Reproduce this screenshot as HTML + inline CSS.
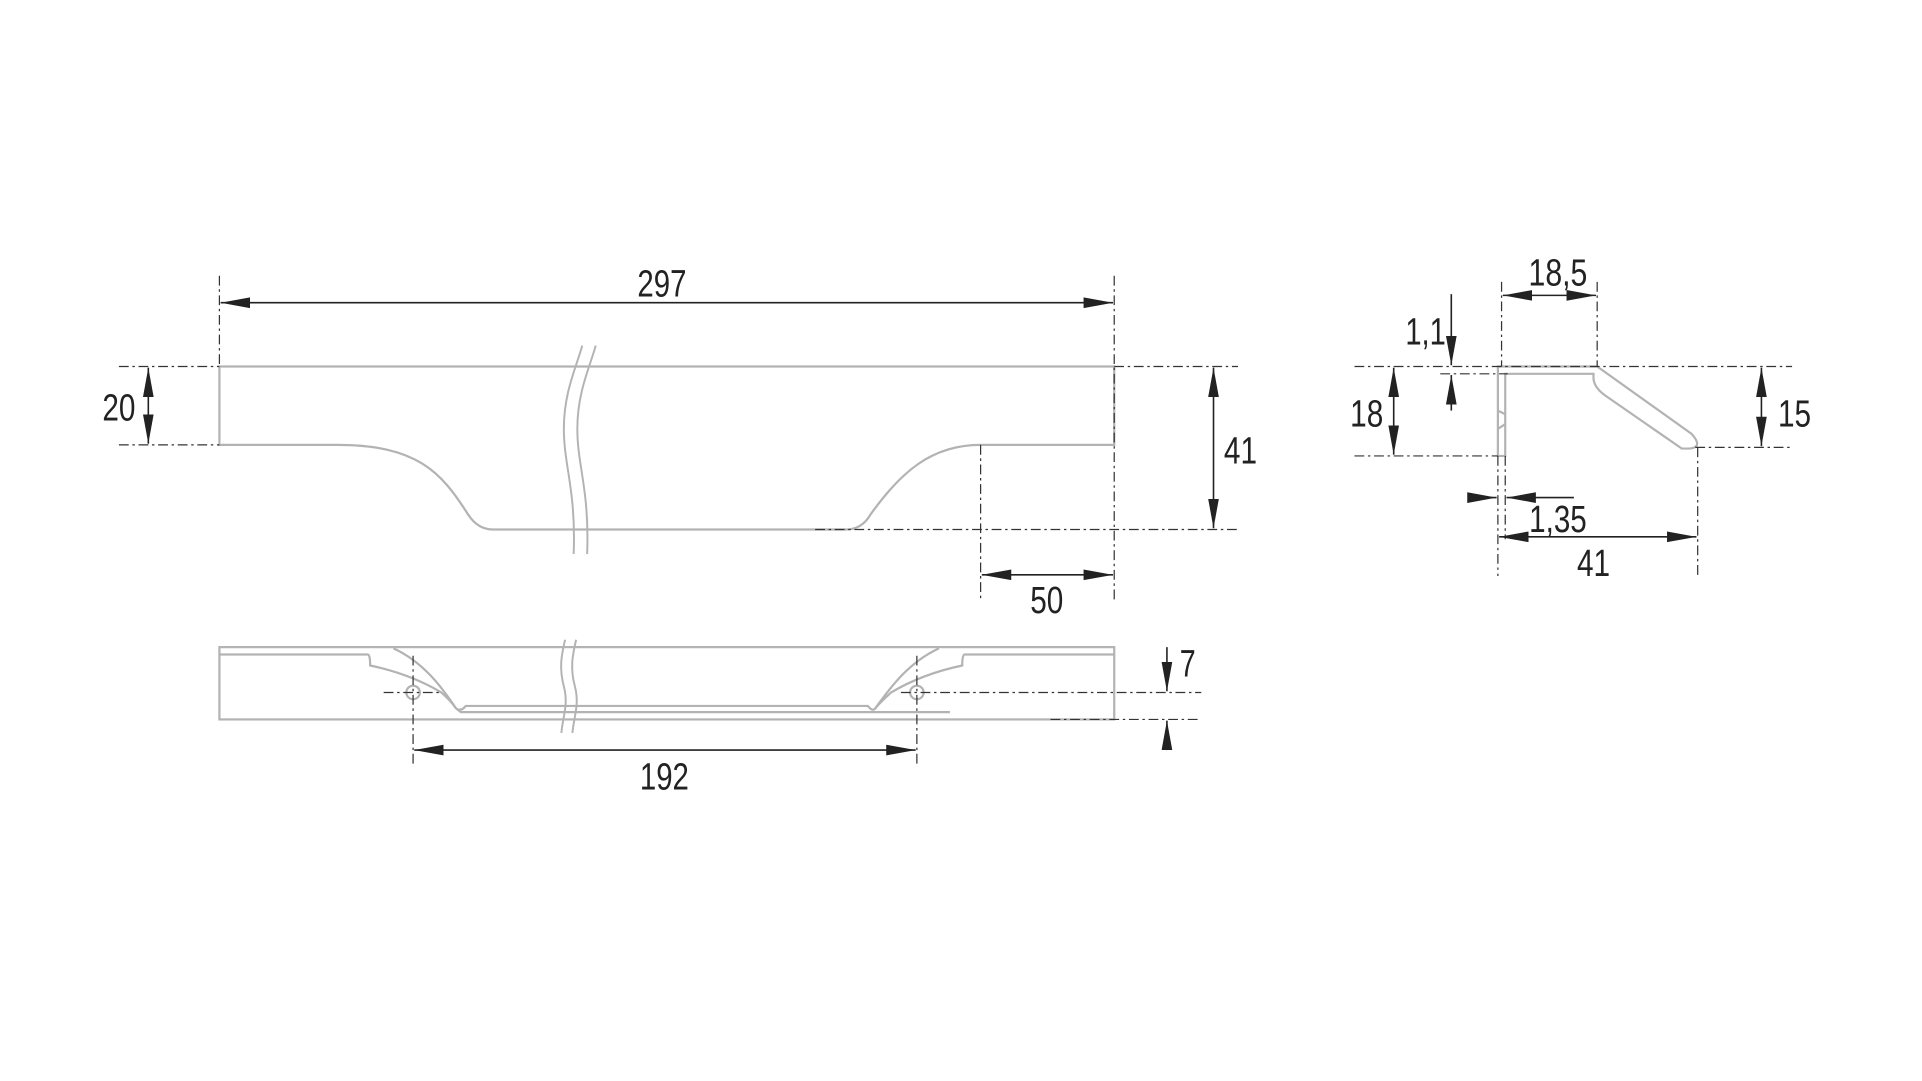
<!DOCTYPE html>
<html><head><meta charset="utf-8"><style>
html,body{margin:0;padding:0;background:#fff;}
svg{display:block;}
text{font-family:"Liberation Sans Narrow","Liberation Sans",sans-serif;font-size:31px;fill:#222;}
</style></head><body>
<svg width="1922" height="1081" viewBox="0 0 1568 882" preserveAspectRatio="none" xmlns="http://www.w3.org/2000/svg">
<defs>
<marker id="a" markerUnits="userSpaceOnUse" markerWidth="24" markerHeight="10" refX="22" refY="4" orient="auto-start-reverse" viewBox="0 0 22 8"><path d="M0,0 L22,4 L0,8 Z" fill="#222"/></marker>
</defs>
<g fill="none" stroke="#b3b3b3" stroke-width="1.8">
<path d="M179,299 H909 V363 H800 C760,363 735,385 710,420 Q703,432 690,432 H402 Q390,432 382,420 C360,385 340,363 275,363 H179 Z"/>
<rect x="179" y="528" width="730" height="59"/>
<path d="M179,534 H300 Q302,534 302,543 Q335,550 360,565 Q368,572 372,578"/>
<path d="M321,529 C345,540 360,560 372,578"/>
<path d="M909,534 H787 Q785,534 785,543 Q752,550 727,565 Q719,572 714,578"/>
<path d="M766,529 C742,540 727,560 714,578"/>
<path d="M372,578 Q376,581 380,576 H708 Q712,581 714,578"/>
<path d="M372,578 L376,581 H775"/>
<circle cx="337" cy="565" r="5.5"/><circle cx="748" cy="565" r="5.5"/>
<path d="M1222,299 H1303 L1380,354 Q1390,365 1378,366 H1372 L1310,323 Q1300,316 1300,308 V305 H1228 V372 H1222 Z"/>
<path d="M1222,335 L1228,338 M1222,350 L1228,346"/>
</g>
<g fill="none" stroke="#b3b3b3" stroke-width="1.6">
<path d="M475,282 C470,300 460,320 460,350 C460,380 470,400 468,452"/>
<path d="M486,282 C481,300 471,320 471,350 C471,380 481,400 479,452"/>
<path d="M461,522 C458,535 456,545 460,560 C464,575 459,585 458,598"/>
<path d="M470,522 C467,535 465,545 469,560 C473,575 468,585 467,598"/>
</g>
<g fill="none" stroke="#333" stroke-width="1" stroke-dasharray="8,3,2,3">
<path d="M179,225 V299 M909,225 V490 M800,363 V490"/>
<path d="M97,299 H179 M909,299 H1010 M97,363 H179 M665,432 H1010"/>
<path d="M337,535 V625 M748,535 V625 M313,565 H360 M735,565 H980 M857,587 H980"/>
<path d="M1105,299 H1462 M1383,365 H1462 M1105,372 H1222 M1175,305 H1230"/>
<path d="M1225,230 V299 M1303,230 V299 M1222,372 V470 M1228,372 V440 M1385,365 V470"/>
</g>
<g fill="none" stroke="#222" stroke-width="1.3">
<path d="M180,247 H908" marker-start="url(#a)" marker-end="url(#a)"/>
<path d="M121,300 V362" marker-start="url(#a)" marker-end="url(#a)"/>
<path d="M990,300 V431" marker-start="url(#a)" marker-end="url(#a)"/>
<path d="M801,469 H908" marker-start="url(#a)" marker-end="url(#a)"/>
<path d="M338,612 H747" marker-start="url(#a)" marker-end="url(#a)"/>
<path d="M952,528 V564" marker-end="url(#a)"/>
<path d="M952,612 V588" marker-end="url(#a)"/>
<path d="M1226,241 H1302" marker-start="url(#a)" marker-end="url(#a)"/>
<path d="M1137,300 V371" marker-start="url(#a)" marker-end="url(#a)"/>
<path d="M1437,300 V364" marker-start="url(#a)" marker-end="url(#a)"/>
<path d="M1184,240 V298" marker-end="url(#a)"/>
<path d="M1184,335 V306" marker-end="url(#a)"/>
<path d="M1198,406 H1221" marker-end="url(#a)"/>
<path d="M1284,406 H1229" marker-end="url(#a)"/>
<path d="M1223,438 H1384" marker-start="url(#a)" marker-end="url(#a)"/>
</g>
<g text-anchor="middle">
<text x="540" y="242" textLength="40" lengthAdjust="spacingAndGlyphs">297</text>
<text x="97" y="343" textLength="27" lengthAdjust="spacingAndGlyphs">20</text>
<text x="1012" y="378" textLength="27" lengthAdjust="spacingAndGlyphs">41</text>
<text x="854" y="500" textLength="27" lengthAdjust="spacingAndGlyphs">50</text>
<text x="542" y="644" textLength="40" lengthAdjust="spacingAndGlyphs">192</text>
<text x="969" y="552" textLength="13" lengthAdjust="spacingAndGlyphs">7</text>
<text x="1271" y="233" textLength="48" lengthAdjust="spacingAndGlyphs">18,5</text>
<text x="1163" y="281" textLength="33" lengthAdjust="spacingAndGlyphs">1,1</text>
<text x="1115" y="348" textLength="27" lengthAdjust="spacingAndGlyphs">18</text>
<text x="1464" y="348" textLength="27" lengthAdjust="spacingAndGlyphs">15</text>
<text x="1271" y="434" textLength="47" lengthAdjust="spacingAndGlyphs">1,35</text>
<text x="1300" y="470" textLength="27" lengthAdjust="spacingAndGlyphs">41</text>
</g>
</svg>
</body></html>
